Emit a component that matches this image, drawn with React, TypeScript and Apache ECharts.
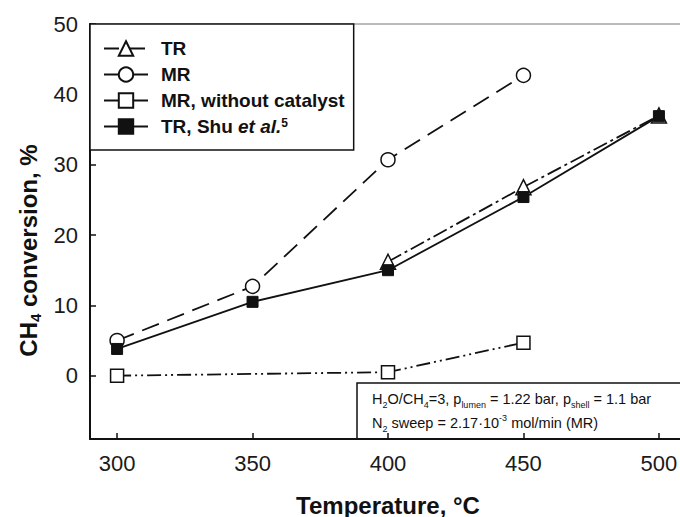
import React, { useEffect, useRef } from "react";
import * as echarts from "echarts";

const temperatures = [300, 350, 400, 450, 500];
const trValues = [null, null, 16.2, 26.8, 37.0];
const mrValues = [5.0, 12.7, 30.7, 42.7, null];
const mrNoCatalystValues = [0.0, null, 0.5, 4.7, null];
const shuValues = [3.8, 10.5, 15.0, 25.4, 36.9];
const seriesNames = ["TR", "MR", "MR, without catalyst", "TR, Shu et al.5"];
const xTicks = [300, 350, 400, 450, 500];
const yTicks = [0, 10, 20, 30, 40, 50];

const FONT = "'Liberation Sans', Arial, Helvetica, sans-serif";
const INK = "#111";

function pairs(vals: (number | null)[]) {
  const out: [number, number][] = [];
  vals.forEach((v, i) => {
    if (v !== null) out.push([temperatures[i], v]);
  });
  return out;
}

export default function App() {
  const ref = useRef<HTMLDivElement>(null);
  useEffect(() => {
    if (!ref.current) return;
    const chart = echarts.init(ref.current, null, { renderer: "svg" });
    const common = {
      type: "line",
      showAllSymbol: true,
      z: 3,
    };
    const sub = { fontFamily: FONT, fontSize: 9, fill: INK, color: INK, lineHeight: 10, verticalAlign: "bottom" };
    const sup = { fontFamily: FONT, fontSize: 9, fill: INK, color: INK, lineHeight: 10, verticalAlign: "top" };
    const norm = { fontFamily: FONT, fontSize: 14.5, fill: INK, color: INK, lineHeight: 20 };
    chart.setOption({
      animation: false,
      backgroundColor: "#fff",
      grid: {
        left: 90,
        top: 24,
        width: 596,
        height: 415,
        show: true,
        borderColor: "#777",
        borderWidth: 1,
        backgroundColor: "transparent",
        outerBoundsMode: "none",
        containLabel: false,
      },
      xAxis: {
        type: "value",
        min: 290,
        max: 510,
        minInterval: 50,
        maxInterval: 50,
        name: "Temperature, °C",
        nameLocation: "middle",
        nameGap: 54,
        nameTextStyle: { fontFamily: FONT, fontSize: 24, fontWeight: "bold", color: INK, lineHeight: 24 },
        axisLine: { onZero: false, lineStyle: { color: INK, width: 2 } },
        axisTick: { inside: true, length: 6, lineStyle: { color: INK, width: 1.5 } },
        axisLabel: {
          fontFamily: FONT,
          fontSize: 22,
          color: "#1a1a1a",
          margin: 13,
          formatter: (v: number) => (xTicks.includes(v) ? String(v) : ""),
        },
        splitLine: { show: false },
      },
      yAxis: {
        type: "value",
        min: -9,
        max: 50,
        minInterval: 10,
        maxInterval: 10,
        name: "{b|CH}{s|4}{b| conversion, %}",
        nameLocation: "middle",
        nameGap: 46,
        nameRotate: 90,
        nameTextStyle: {
          fontFamily: FONT,
          fontSize: 24,
          fontWeight: "bold",
          color: INK,
          padding: [0, 38, 0, 0],
          rich: {
            b: { fontFamily: FONT, fontSize: 24, fontWeight: "bold", color: INK, lineHeight: 28 },
            s: { fontFamily: FONT, fontSize: 15, fontWeight: "bold", color: INK, lineHeight: 14, verticalAlign: "bottom" },
          },
        },
        axisLine: { onZero: false, lineStyle: { color: INK, width: 2 } },
        axisTick: { inside: true, length: 6, lineStyle: { color: INK, width: 1.5 } },
        axisLabel: {
          fontFamily: FONT,
          fontSize: 22,
          color: "#1a1a1a",
          margin: 12,
          formatter: (v: number) => (yTicks.includes(v) ? String(v) : ""),
        },
        splitLine: { show: false },
      },
      legend: {
        orient: "vertical",
        left: 90,
        top: 24,
        itemWidth: 44,
        itemHeight: 18,
        itemGap: 7,
        padding: [15, 9, 14, 13],
        borderColor: INK,
        borderWidth: 1.5,
        backgroundColor: "#fff",
        selectedMode: false,
        data: seriesNames,
        formatter: (name: string) =>
          name === "TR, Shu et al.5" ? "TR, Shu {it|et al.}{sup|5}" : name,
        textStyle: {
          fontFamily: FONT,
          fontSize: 19,
          fontWeight: "bold",
          color: INK,
          padding: [0, 0, 0, 8],
          rich: {
            it: { fontFamily: FONT, fontSize: 19, fontWeight: "bold", fontStyle: "italic", color: INK },
            sup: { fontFamily: FONT, fontSize: 12, fontWeight: "bold", color: INK, verticalAlign: "top", lineHeight: 12 },
          },
        },
      },
      graphic: [
        {
          type: "group",
          z: 20,
          children: [
            {
              type: "rect",
              shape: { x: 357, y: 383, width: 340, height: 56 },
              style: { fill: "#fff", stroke: INK, lineWidth: 1.5 },
            },
            {
              type: "text",
              x: 372,
              y: 389,
              style: {
                text: "{n|H}{s|2}{n|O/CH}{s|4}{n|=3, p}{s|lumen}{n| = 1.22 bar, p}{s|shell}{n| = 1.1 bar}",
                fill: INK,
                rich: { n: norm, s: sub },
              },
            },
            {
              type: "text",
              x: 372,
              y: 413,
              style: {
                text: "{n|N}{s|2}{n| sweep = 2.17·10}{p|-3}{n| mol/min (MR)}",
                fill: INK,
                rich: { n: norm, s: sub, p: sup },
              },
            },
          ],
        },
      ],
      series: [
        {
          ...common,
          name: seriesNames[0],
          data: pairs(trValues),
          symbol: "triangle",
          symbolSize: 15,
          lineStyle: { color: INK, width: 1.8, type: [15, 4, 3, 4] },
          itemStyle: { color: "#fff", borderColor: INK, borderWidth: 1.5 },
        },
        {
          ...common,
          name: seriesNames[1],
          data: pairs(mrValues),
          symbol: "circle",
          symbolSize: 14,
          lineStyle: { color: INK, width: 1.8, type: [18, 9] },
          itemStyle: { color: "#fff", borderColor: INK, borderWidth: 1.5 },
        },
        {
          ...common,
          name: seriesNames[2],
          data: pairs(mrNoCatalystValues),
          symbol: "rect",
          symbolSize: 13,
          lineStyle: { color: INK, width: 1.8, type: [14, 4, 2, 4, 2, 4] },
          itemStyle: { color: "#fff", borderColor: INK, borderWidth: 1.5 },
        },
        {
          ...common,
          name: seriesNames[3],
          data: pairs(shuValues),
          symbol: "rect",
          symbolSize: 11,
          lineStyle: { color: INK, width: 1.8, type: "solid" },
          itemStyle: { color: INK, borderColor: INK, borderWidth: 1 },
        },
      ],
    });
    return () => chart.dispose();
  }, []);
  return (
    <div
      ref={ref}
      style={{ position: "fixed", left: 0, top: 0, width: 680, height: 517, background: "#fff" }}
    />
  );
}
